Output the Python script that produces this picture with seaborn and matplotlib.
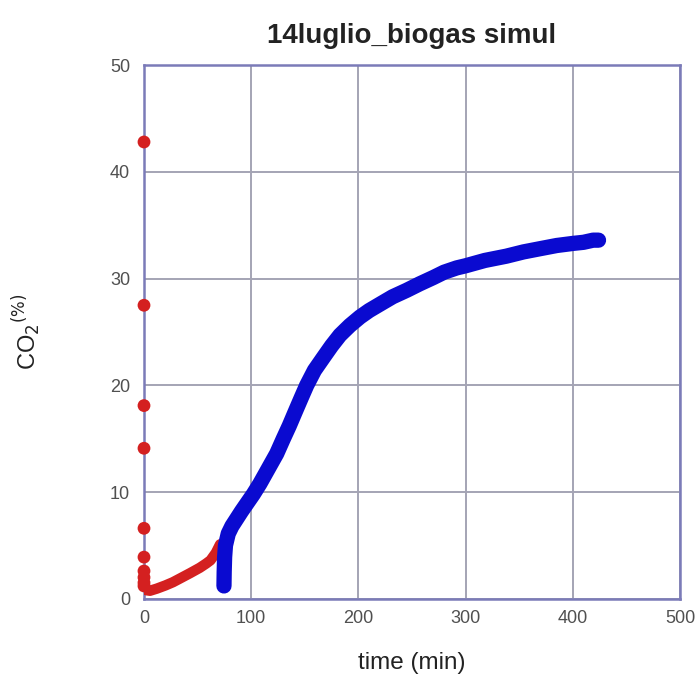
import matplotlib
matplotlib.use("Agg")
import matplotlib.pyplot as plt
import seaborn as sns
import pandas as pd

# Initial burst readings, all logged at t = 0
burst_time = [0, 0, 0, 0, 0, 0, 0, 0, 0, 0]
burst_co2 = [42.8, 27.5, 18.1, 14.1, 6.6, 3.9, 2.6, 2.0, 1.5, 1.2]

# Baseline phase (red)
base_time = [0, 2, 5.6, 12, 20, 27, 33.6, 43, 52, 58, 62, 67, 71]
base_co2 = [1.0, 0.8, 0.75, 0.95, 1.25, 1.55, 1.9, 2.4, 2.9, 3.3, 3.6, 4.3, 5.1]

# Biogas simulation phase (blue)
sim_time = [74.6, 74.8, 75.2, 76, 78.6, 82, 86.5, 91, 95.8, 102, 108.2, 116,
            123.8, 130, 135.5, 141, 147, 151.8, 159, 167.3, 175, 182.8, 192,
            201.5, 210, 220.1, 232, 245, 257, 269.9, 280, 291.7, 300, 318,
            338, 354, 369.4, 385, 400.5, 410, 419, 424]
sim_co2 = [1.2, 2.5, 3.9, 5.0, 6.1, 6.8, 7.5, 8.2, 8.9, 9.8, 10.8, 12.2,
           13.6, 15.0, 16.2, 17.5, 18.9, 20.0, 21.4, 22.6, 23.7, 24.7, 25.6,
           26.4, 27.0, 27.6, 28.3, 28.9, 29.5, 30.1, 30.6, 31.0, 31.2, 31.7,
           32.1, 32.5, 32.8, 33.1, 33.3, 33.4, 33.6, 33.6]

x_ticks = [0, 100, 200, 300, 400, 500]
y_ticks = [0, 10, 20, 30, 40, 50]

burst = pd.DataFrame({"time": burst_time, "co2": burst_co2})
base = pd.DataFrame({"time": base_time, "co2": base_co2})
sim = pd.DataFrame({"time": sim_time, "co2": sim_co2})

sns.set_style("white")
plt.rcParams["font.family"] = ["Liberation Sans", "DejaVu Sans"]

fig = plt.figure(figsize=(6.97, 6.93), dpi=100)
ax = fig.add_axes([0.2066, 0.136, 0.769, 0.770])

red = "#d42020"
blue = "#0a0ad0"
frame = "#7b7bb8"
gridc = "#a4a4b4"

ax.set_xlim(0, 500)
ax.set_ylim(0, 50)
ax.set_xticks(x_ticks)
ax.set_yticks(y_ticks)
ax.grid(True, color=gridc, linewidth=1.4, zorder=0)
ax.set_axisbelow(True)

sns.lineplot(data=base, x="time", y="co2", ax=ax, color=red, linewidth=7.5,
             sort=False, estimator=None, solid_capstyle="round",
             solid_joinstyle="round", zorder=3)
sns.lineplot(data=sim, x="time", y="co2", ax=ax, color=blue, linewidth=11,
             sort=False, estimator=None, solid_capstyle="round",
             solid_joinstyle="round", zorder=4)
sns.scatterplot(data=burst, x="time", y="co2", ax=ax, color=red, s=85,
                edgecolor="none", zorder=5, clip_on=False)

for side in ["top", "right", "bottom", "left"]:
    ax.spines[side].set_visible(True)
    ax.spines[side].set_color(frame)
    ax.spines[side].set_linewidth(1.8)

ax.tick_params(axis="x", length=0, pad=8, labelsize=13, labelcolor="#505050")
ax.tick_params(axis="y", length=0, pad=10, labelsize=13, labelcolor="#505050")
ax.set_xticklabels([str(v) for v in x_ticks])
ax.set_yticklabels([str(v) for v in y_ticks])

ax.set_xlabel("time (min)", fontsize=17.5, color="#222222", labelpad=18)
ax.set_ylabel(r"CO$_2$$^{\rm (\%)}$", fontsize=17, color="#222222", labelpad=48)
ax.set_title("14luglio_biogas simul", fontsize=20, fontweight="bold",
             color="#222222", pad=16)

fig.savefig("out.png", dpi=100, facecolor="white")
